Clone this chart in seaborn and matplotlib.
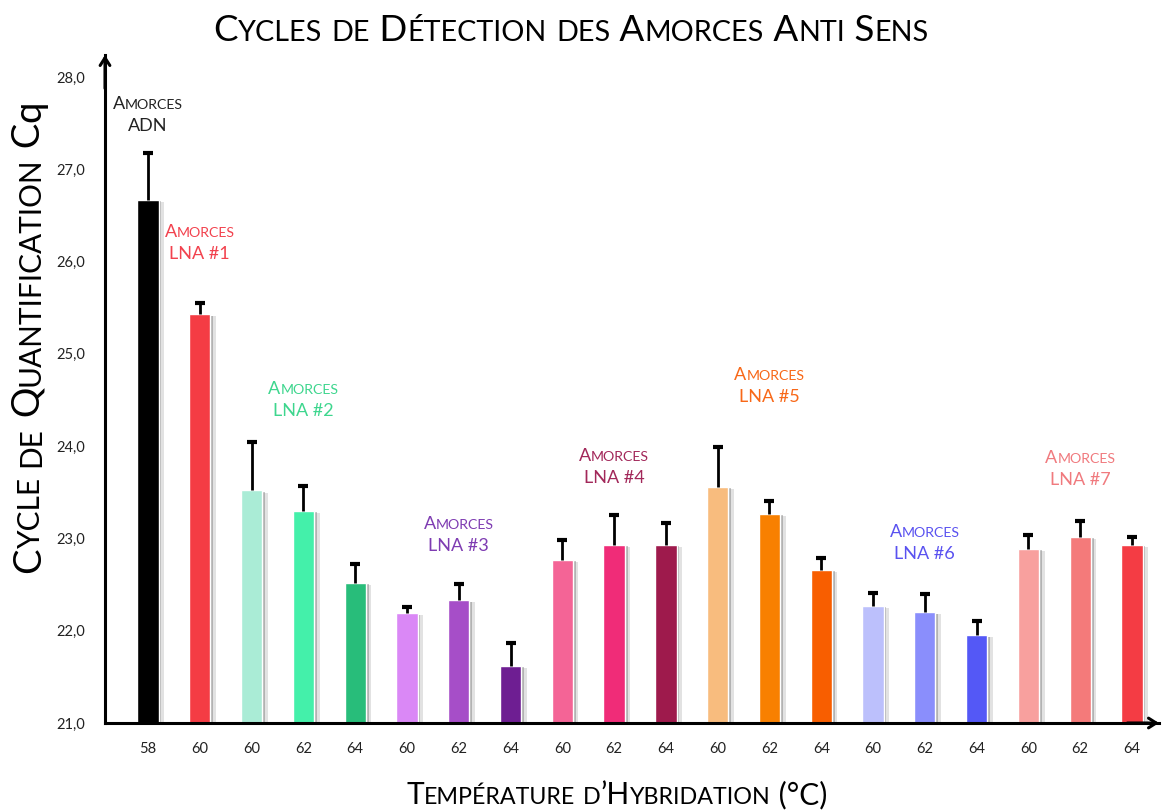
import numpy as np
import pandas as pd
import matplotlib
matplotlib.use("Agg")
import matplotlib.pyplot as plt
import matplotlib.patheffects as pe
import seaborn as sns

# --- data -------------------------------------------------------------
bar_ids = ["ADN-58", "LNA1-60", "LNA2-60", "LNA2-62", "LNA2-64",
           "LNA3-60", "LNA3-62", "LNA3-64", "LNA4-60", "LNA4-62",
           "LNA4-64", "LNA5-60", "LNA5-62", "LNA5-64", "LNA6-60",
           "LNA6-62", "LNA6-64", "LNA7-60", "LNA7-62", "LNA7-64"]
temps = ["58", "60", "60", "62", "64", "60", "62", "64", "60", "62",
         "64", "60", "62", "64", "60", "62", "64", "60", "62", "64"]
cq = [26.67, 25.43, 23.52, 23.30, 22.52, 22.19, 22.33, 21.62, 22.77, 22.93,
      22.93, 23.56, 23.27, 22.66, 22.27, 22.20, 21.95, 22.89, 23.02, 22.93]
cq_err = [0.51, 0.12, 0.53, 0.27, 0.20, 0.07, 0.18, 0.25, 0.21, 0.32,
          0.24, 0.43, 0.14, 0.13, 0.14, 0.20, 0.16, 0.15, 0.17, 0.08]
bar_colors = ["#000000", "#f43c44", "#aaecd6", "#44f0aa", "#28bd7a",
              "#da88f6", "#a64ec8", "#6e1e92", "#f46496", "#f02c78",
              "#9e1a4c", "#f8bc7e", "#f88000", "#f85e00", "#bcc0fc",
              "#8a8efc", "#5458f6", "#f8a09e", "#f47a7a", "#f43c44"]

group_names = ["Amorces\nADN", "Amorces\nLNA #1", "Amorces\nLNA #2",
               "Amorces\nLNA #3", "Amorces\nLNA #4", "Amorces\nLNA #5",
               "Amorces\nLNA #6", "Amorces\nLNA #7"]
group_colors = ["#222222", "#f2424e", "#3ed68e", "#7e3cb2", "#a2285a",
                "#f86818", "#5a52f0", "#f07a7e"]
# label anchor: bar index under the label and baseline of first line (Cq)
group_x = [0, 1, 3, 6, 9, 12, 15, 18]
group_y = [27.65, 26.27, 24.57, 23.10, 23.84, 24.72, 23.02, 23.82]

y_ticks = [21, 22, 23, 24, 25, 26, 27, 28]

FONT = "Lato"

# --- figure -----------------------------------------------------------
sns.set_style("white")
plt.rcParams["font.family"] = [FONT, "DejaVu Sans"]

W, H = 1162, 811
fig = plt.figure(figsize=(W / 100, H / 100), dpi=100)
ax = fig.add_axes([105 / W, 88 / H, (1159 - 105) / W, (723 - 55) / H])

df = pd.DataFrame({"bar": bar_ids, "cq": cq})
sns.barplot(data=df, x="bar", y="cq", hue="bar", palette=bar_colors,
            legend=False, width=0.41, saturation=1, ax=ax, errorbar=None,
            zorder=3)
for patch in ax.patches:
    patch.set_path_effects([
        pe.SimplePatchShadow(offset=(4, -1.5), shadow_rgbFace="0.55", alpha=0.25),
        pe.SimplePatchShadow(offset=(2, -1), shadow_rgbFace="0.35", alpha=0.35),
        pe.Normal()])

xs = np.arange(len(cq))
tops = np.array(cq) + np.array(cq_err)
ax.vlines(xs, cq, tops, color="black", lw=2.0, zorder=4)
ax.plot(xs, tops, ls="none", marker="_", ms=7.5, mew=3.0, color="black",
        zorder=4)

ax.set_xlim(-43 / 51.79, (1159 - 148) / 51.79)
ax.set_ylim(21, 21 + 668 / 92.29)

for side in ("top", "right"):
    ax.spines[side].set_visible(False)
for side in ("left", "bottom"):
    ax.spines[side].set_linewidth(2.2)
    ax.spines[side].set_color("black")
    ax.spines[side].set_zorder(5)

ax.set_xticks(xs)
ax.set_xticklabels(temps)
ax.set_yticks(y_ticks)
ax.set_yticklabels([f"{v:.1f}".replace(".", ",") for v in y_ticks])
ax.tick_params(axis="both", direction="out", length=9, width=1.9,
               color="black", labelsize=10.5, labelcolor="#222222")
ax.tick_params(axis="x", pad=5)
ax.tick_params(axis="y", pad=5.5)
ax.set_xlabel("")
ax.set_ylabel("")

# arrow heads at the ends of both axes
arrow = dict(arrowstyle="->,head_length=0.55,head_width=0.35", lw=2.2,
             color="black", shrinkA=0, shrinkB=0)
ax.annotate("", xy=(1.0, 0), xytext=(0.97, 0), xycoords="axes fraction",
            arrowprops=arrow, annotation_clip=False)
ax.annotate("", xy=(0, 1.0), xytext=(0, 0.95), xycoords="axes fraction",
            arrowprops=arrow, annotation_clip=False)

renderer = fig.canvas.get_renderer()


def advance(s, size):
    """Advance width in pixels of a string, trailing spaces included."""
    t1 = fig.text(0, 0, "|" + s + "|", fontsize=size, family=FONT)
    t2 = fig.text(0, 0, "||", fontsize=size, family=FONT)
    w = (t1.get_window_extent(renderer).width
         - t2.get_window_extent(renderer).width)
    t1.remove()
    t2.remove()
    return w


def small_caps(x, y, text, size, color, rotation=0, ratio=0.78, tail=""):
    """Draw text in small capitals, centred on (x, y) pixels from top-left,
    y being the baseline."""
    runs = []
    for ch in text:
        fs = size * ratio if ch.islower() else size
        if runs and runs[-1][1] == fs:
            runs[-1][0] += ch.upper()
        else:
            runs.append([ch.upper(), fs])
    if tail:
        runs.append([tail, size])
    widths = [advance(s, fs) for s, fs in runs]
    total = sum(widths)
    off = -total / 2
    for (s, fs), w in zip(runs, widths):
        if rotation == 0:
            px, py = x + off, y
        else:
            px, py = x, y - off
        fig.text(px / W, 1 - py / H, s, fontsize=fs, color=color,
                 family=FONT, ha="left", va="baseline",
                 rotation=rotation, rotation_mode="anchor")
        off += w


small_caps(571, 41, "Cycles de Détection des Amorces Anti Sens", 26.5, "black")
small_caps(617, 804, "Température d’Hybridation (°C)", 21.5, "black")
small_caps(40, 337, "Cycle de Quantification C", 27.5, "black", rotation=90,
           tail="q")

for name, gx, gy, col in zip(group_names, group_x, group_y, group_colors):
    dx, dy = ax.transData.transform((gx, gy))
    px, py = dx, H - dy
    for i, line in enumerate(name.split("\n")):
        small_caps(px, py + 22 * i, line, 13, col)

fig.savefig("out.png", dpi=100)
